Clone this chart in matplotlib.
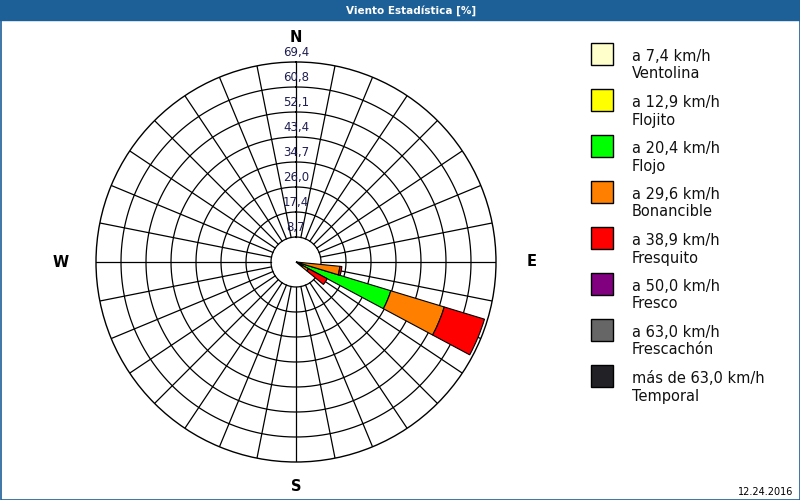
import numpy as np
import matplotlib
matplotlib.use("Agg")
import matplotlib.pyplot as plt
from matplotlib.patches import Rectangle

# rumbos con datos (grados, 32 rumbos)
rumbos = [101.25, 112.5, 123.75]

# porcentaje por clase de viento en cada rumbo
ventolina = [0.0, 0.0, 0.0]
flojito = [0.0, 0.0, 0.0]
flojo = [0.5, 34.4, 2.5]
bonancible = [14.8, 19.4, 2.4]
fresquito = [0.7, 14.6, 7.4]
fresco = [0.0, 0.0, 0.0]
frescachon = [0.0, 0.0, 0.0]
temporal = [0.0, 0.0, 0.0]

clases = [ventolina, flojito, flojo, bonancible, fresquito, fresco, frescachon, temporal]
colores = ["#ffffcc", "#ffff00", "#00ff00", "#ff8000", "#ff0000", "#800080", "#666666", "#222226"]
leyenda1 = ["a 7,4 km/h", "a 12,9 km/h", "a 20,4 km/h", "a 29,6 km/h",
            "a 38,9 km/h", "a 50,0 km/h", "a 63,0 km/h", "más de 63,0 km/h"]
leyenda2 = ["Ventolina", "Flojito", "Flojo", "Bonancible",
            "Fresquito", "Fresco", "Frescachón", "Temporal"]

anillos = ["8,7", "17,4", "26,0", "34,7", "43,4", "52,1", "60,8", "69,4"]
rmax = 69.45
paso = rmax / 8

azul = "#1d5f97"

fig = plt.figure(figsize=(8, 5), dpi=100)

# fondo en pixeles
bg = fig.add_axes([0, 0, 1, 1])
bg.set_xlim(0, 800)
bg.set_ylim(500, 0)
bg.axis("off")
bg.add_patch(Rectangle((0, 0), 800, 20, color=azul, zorder=1))
bg.add_patch(Rectangle((0.5, 0.5), 799, 499, fill=False, edgecolor=azul, lw=1.2, zorder=1))
bg.text(411, 10.5, "Viento Estadística [%]", color="white", fontsize=7.5,
        fontweight="bold", ha="center", va="center")
bg.text(793, 492, "12.24.2016", fontsize=7, ha="right", va="center")

# leyenda
for i in range(len(clases)):
    y0 = 43 + 46 * i
    bg.add_patch(Rectangle((591, y0), 22, 22, facecolor=colores[i],
                           edgecolor="black", lw=1))
    bg.text(632, y0 + 18, leyenda1[i], fontsize=10.5, va="baseline", color="#111111")
    bg.text(632, y0 + 35.5, leyenda2[i], fontsize=10.5, va="baseline", color="#111111")

# rosa de los vientos
ax = fig.add_axes([96 / 800, 38 / 500, 400 / 800, 400 / 500], projection="polar")
ax.set_theta_zero_location("N")
ax.set_theta_direction(-1)
ax.set_ylim(0, rmax)
ax.set_xticks([])
ax.set_yticks([])
ax.grid(False)
ax.spines["polar"].set_linewidth(1)
ax.spines["polar"].set_color("black")

th = np.linspace(0, 2 * np.pi, 400)
for k in range(1, 8):
    ax.plot(th, np.full_like(th, k * paso), color="black", lw=0.9, zorder=1)
for k in range(32):
    a = np.deg2rad(k * 11.25)
    ax.plot([a, a], [paso, rmax], color="black", lw=0.9, zorder=1)

for k, lab in enumerate(anillos):
    ax.text(0, (k + 1) * paso + 3.4, lab, ha="center", va="center",
            fontsize=8.5, color="#1e1e52", zorder=2)

theta = np.deg2rad(rumbos)
ancho = np.deg2rad(11.25)
base = np.zeros(len(rumbos))
for vals, col in zip(clases, colores):
    vals = np.array(vals)
    m = vals > 0
    if m.any():
        ax.bar(theta[m], vals[m], width=ancho, bottom=base[m], color=col,
               edgecolor="black", lw=0.8, zorder=3)
    base += vals

rot = 78.0
ax.text(0, rot, "N", ha="center", va="center", fontsize=10.5, fontweight="bold", clip_on=False)
ax.text(np.pi, rot, "S", ha="center", va="center", fontsize=10.5, fontweight="bold", clip_on=False)
ax.text(np.pi / 2, 81.8, "E", ha="center", va="center", fontsize=10.5, fontweight="bold", clip_on=False)
ax.text(3 * np.pi / 2, 81.8, "W", ha="center", va="center", fontsize=10.5, fontweight="bold", clip_on=False)

fig.savefig("out.png", dpi=100)
